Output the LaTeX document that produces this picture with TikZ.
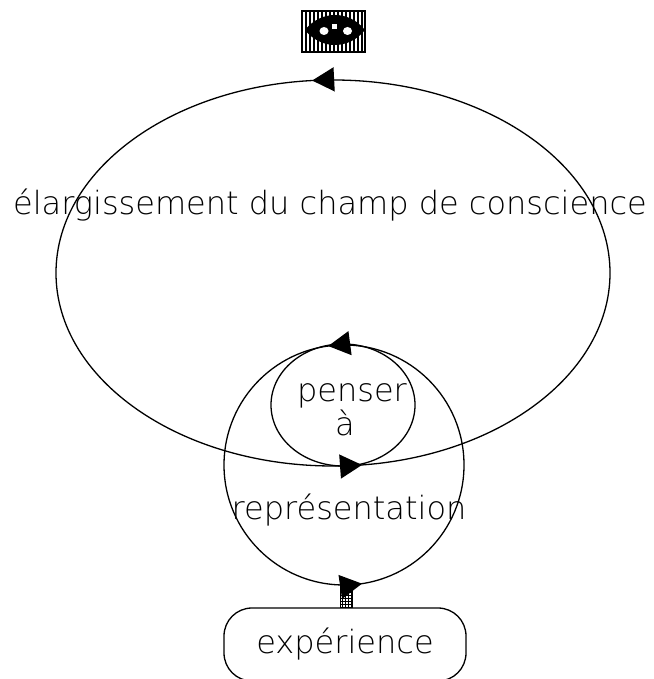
\documentclass[tikz,border=0pt]{standalone}
\usepackage{fontspec}
\newfontfamily\diagfont{DejaVuSans-ExtraLight.ttf}
\usetikzlibrary{arrows.meta,decorations.markings,patterns,calc}
\tikzset{
  bigtri/.tip={Triangle[length=22pt,width=24pt]},
  loopline/.style={line width=1.3pt, draw=black},
  lbl/.style={font=\diagfont\fontsize{32}{32}\selectfont, inner sep=0pt},
  arrowsAt/.style 2 args={postaction={decorate}, decoration={markings,
      mark=at position #1 with {\arrow{bigtri}},
      mark=at position #2 with {\arrow{bigtri}}}},
  expbox/.style={draw, line width=1.3pt, rounded corners=28pt,
      minimum width=242pt, minimum height=73pt, inner sep=0pt,
      font=\diagfont\fontsize{32}{32}\selectfont},
  stemfill/.style={draw, line width=1pt, pattern=grid, pattern color=black}
}
\begin{document}
\begin{tikzpicture}[x=1pt,y=1pt]
\useasboundingbox (0,0) rectangle (653,679);
\clip (0,0) rectangle (653,679);

% eye icon
\fill[black] (301,626) rectangle (366,669);
\fill[white] (303,628) rectangle (364,667);
\foreach \sx in {305,309,...,361} { \fill[black] (\sx,628) rectangle (\sx+2,667); }
\fill[black] (305,649) .. controls (321,669) and (349,669) .. (365,649)
             .. controls (349,629) and (321,629) .. (305,649) -- cycle;
\fill[white] (324,648) ellipse[x radius=4.5, y radius=4];
\fill[white] (347.5,648) ellipse[x radius=4.5, y radius=4];
\fill[white] (332,650) rectangle (337,655);

% loops
\draw[loopline, arrowsAt={0.264}{0.7695}] (333,406) ellipse[x radius=277, y radius=193];
\draw[loopline, arrowsAt={0.271}{0.774}] (344,214) circle[radius=120];
\draw[loopline] (343,274) ellipse[x radius=72, y radius=61];
\coordinate (repbot) at (344,92);

% labels
\node[lbl, anchor=base] (champ) at (330,464) {élargissement du champ de conscience};
\node[lbl, anchor=base] (penser) at (352,277) {penser};
\node[lbl, anchor=base] (pa) at (345,243) {à};
\node[lbl, anchor=base] (rep) at (349,159) {représentation};

% experience box and stem
\node[expbox] (exp) at (345,34.5) {expérience};
\path[stemfill] ($(exp.north)+(-5,0)$) rectangle ($(repbot)+(8,0)$);
\end{tikzpicture}
\end{document}
